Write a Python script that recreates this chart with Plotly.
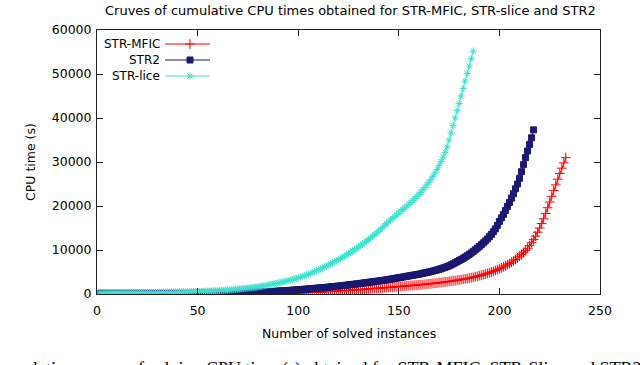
import plotly.graph_objects as go

# ---------------- data ----------------
series_names = ["STR-MFIC", "STR2", "STR-lice"]

str_mfic = [
    5, 5, 10, 10, 10, 15, 15, 15, 20, 20,
    20, 25, 25, 25, 30, 30, 30, 35, 35, 35,
    40, 40, 40, 45, 45, 45, 50, 50, 50, 55,
    55, 55, 60, 60, 60, 65, 65, 65, 70, 70,
    70, 75, 75, 75, 80, 80, 80, 85, 85, 85,
    90, 90, 90, 95, 95, 95, 100, 100, 100, 105,
    105, 105, 110, 110, 110, 115, 115, 115, 120, 120,
    120, 125, 125, 130, 130, 135, 135, 140, 140, 145,
    145, 150, 150, 155, 155, 160, 160, 165, 170, 175,
    180, 185, 190, 195, 200, 205, 210, 215, 220, 225,
    245, 265, 285, 305, 325, 345, 365, 385, 405, 425,
    450, 475, 500, 525, 550, 575, 600, 625, 650, 675,
    705, 735, 765, 795, 825, 855, 885, 915, 945, 975,
    1010, 1045, 1080, 1115, 1150, 1185, 1220, 1255, 1290, 1325,
    1360, 1395, 1430, 1465, 1500, 1535, 1570, 1605, 1640, 1675,
    1715, 1755, 1795, 1835, 1875, 1915, 1955, 1995, 2035, 2075,
    2120, 2165, 2210, 2255, 2300, 2345, 2395, 2445, 2495, 2550,
    2610, 2670, 2730, 2790, 2850, 2915, 2980, 3050, 3120, 3190,
    3270, 3350, 3430, 3510, 3600, 3700, 3800, 3910, 4020, 4140,
    4260, 4390, 4530, 4670, 4820, 4980, 5150, 5330, 5520, 5720,
    5930, 6160, 6400, 6660, 6930, 7220, 7530, 7860, 8210, 8580,
    8980, 9400, 9860, 10400, 11000, 11650, 12350, 13150, 14050, 15000,
    16000, 17100, 18300, 19600, 20900, 22200, 23500, 24800, 26100, 27400,
    28600, 29800, 31000,
]

str2 = [
    10, 15, 20, 25, 30, 30, 35, 35, 40, 40,
    45, 45, 50, 50, 55, 55, 60, 60, 65, 65,
    70, 70, 75, 75, 80, 80, 85, 85, 90, 90,
    95, 95, 100, 100, 105, 105, 110, 110, 115, 115,
    120, 120, 125, 125, 130, 130, 135, 135, 140, 140,
    145, 145, 150, 150, 155, 155, 160, 160, 165, 170,
    175, 180, 185, 190, 195, 200, 205, 210, 220, 230,
    245, 260, 275, 290, 305, 320, 340, 360, 380, 400,
    420, 440, 465, 490, 515, 540, 565, 590, 620, 650,
    680, 710, 740, 770, 800, 830, 860, 890, 920, 950,
    990, 1030, 1070, 1110, 1150, 1190, 1230, 1270, 1310, 1350,
    1390, 1430, 1470, 1510, 1550, 1600, 1650, 1700, 1750, 1800,
    1850, 1900, 1955, 2010, 2065, 2120, 2175, 2230, 2290, 2350,
    2410, 2470, 2530, 2590, 2650, 2710, 2770, 2830, 2890, 2950,
    3020, 3090, 3160, 3230, 3300, 3380, 3460, 3540, 3620, 3700,
    3780, 3860, 3940, 4020, 4100, 4180, 4260, 4340, 4420, 4500,
    4600, 4700, 4800, 4900, 5000, 5110, 5230, 5350, 5470, 5600,
    5750, 5900, 6050, 6220, 6400, 6620, 6850, 7100, 7350, 7600,
    7850, 8120, 8400, 8700, 9000, 9330, 9680, 10040, 10420, 10800,
    11200, 11620, 12050, 12500, 13000, 13550, 14150, 14800, 15600, 16500,
    17300, 18100, 19000, 19900, 20800, 21800, 22800, 23900, 25000, 26300,
    27800, 29400, 31000, 32500, 34000, 35500, 37300,
]

str_slice = [
    150, 160, 170, 180, 190, 200, 205, 210, 215, 220,
    225, 230, 235, 240, 245, 250, 255, 262, 270, 280,
    285, 290, 295, 300, 305, 310, 318, 325, 335, 345,
    350, 355, 360, 368, 375, 382, 390, 398, 405, 415,
    425, 435, 445, 455, 465, 478, 490, 505, 520, 540,
    560, 580, 600, 620, 640, 660, 680, 700, 720, 750,
    780, 810, 840, 870, 900, 935, 970, 1010, 1050, 1100,
    1150, 1200, 1250, 1300, 1350, 1400, 1450, 1500, 1560, 1620,
    1700, 1780, 1860, 1950, 2040, 2130, 2220, 2300, 2400, 2500,
    2600, 2700, 2810, 2920, 3040, 3160, 3280, 3400, 3520, 3640,
    3800, 3970, 4140, 4320, 4500, 4690, 4880, 5080, 5280, 5480,
    5700, 5920, 6140, 6370, 6600, 6830, 7070, 7310, 7560, 7810,
    8080, 8350, 8620, 8900, 9180, 9470, 9760, 10060, 10370, 10680,
    11000, 11330, 11670, 12010, 12360, 12720, 13090, 13470, 13860, 14250,
    14700, 15150, 15600, 16000, 16400, 16800, 17200, 17600, 18000, 18400,
    18800, 19200, 19600, 20000, 20400, 20800, 21250, 21700, 22150, 22600,
    23100, 23650, 24200, 24800, 25400, 26050, 26750, 27500, 28300, 29150,
    30100, 31100, 32200, 33400, 35000, 36600, 38300, 40000, 41700, 43300,
    45000, 46700, 48400, 50100, 51800, 53500, 55200,
]

x_ticks = [0, 50, 100, 150, 200, 250]
y_ticks = [0, 10000, 20000, 30000, 40000, 50000, 60000]
y_tick_labels = ["0", "10000", "20000", "30000", "40000", "50000", "60000"]

title_text = "Cruves of cumulative CPU times obtained for STR-MFIC, STR-slice and STR2"
x_title = "Number of solved instances"
y_title = "CPU time (s)"
caption_text = "umulative curves of solving CPU time (s) obtained for STR-MFIC, STR-Slice and STR2"

# ---------------- styles ----------------
colors = ["#ff0000", "#191970", "#40e0d0"]
symbols = ["cross-thin-open", "square", "asterisk-open"]
sizes = [7, 6, 6]
FONT = "DejaVu Sans"
FS = 12.5

W, H = 640, 365
L, R, T, B = 97, 600, 30, 294   # plot area in window pixels

fig = go.Figure()
all_series = [str_mfic, str2, str_slice]
for name, vals, c, s, sz in zip(series_names, all_series, colors, symbols, sizes):
    fig.add_trace(go.Scatter(
        x=list(range(1, len(vals) + 1)), y=vals, name=name,
        mode="lines+markers",
        line=dict(color=c, width=1),
        marker=dict(symbol=s, size=sz, color=c, line=dict(color=c, width=1)),
        showlegend=False,
    ))

# ---------------- custom legend (text left of key, like gnuplot) ----------------
# overlay axes measured in window pixels over the plot area
legend_rows = [44, 60, 76]
key_x0, key_mid, key_x1 = 165, 190, 210
for name, c, s, sz, ry in zip(series_names, colors, symbols, sizes, legend_rows):
    fig.add_trace(go.Scatter(
        x=[key_x0, key_x1], y=[ry, ry], xaxis="x2", yaxis="y2", mode="lines",
        line=dict(color=c, width=1), showlegend=False, hoverinfo="skip"))
    fig.add_trace(go.Scatter(
        x=[key_mid], y=[ry], xaxis="x2", yaxis="y2", mode="markers",
        marker=dict(symbol=s, size=sz, color=c, line=dict(color=c, width=1)),
        showlegend=False, hoverinfo="skip"))
    fig.add_annotation(x=key_x0 - 3, y=ry, xref="x2", yref="y2", text=name,
                       showarrow=False, xanchor="right", yanchor="middle",
                       font=dict(family=FONT, size=12, color="black"))


def px_x(p):
    return (p - L) / (R - L)


def px_y(p):
    return (B - p) / (B - T)


axis_common = dict(
    showgrid=False, zeroline=False, showline=True, linecolor="#222222",
    linewidth=1, mirror="ticks", ticks="inside", ticklen=6, tickcolor="#222222",
    tickfont=dict(family=FONT, size=FS, color="black"), automargin=False,
)

fig.update_layout(
    width=W, height=H,
    margin=dict(l=L, r=W - R, t=T, b=H - B),
    paper_bgcolor="white", plot_bgcolor="white",
    xaxis=dict(range=[0, 250], tickvals=x_ticks, ticklabelstandoff=5,
               **axis_common),
    yaxis=dict(range=[0, 60000], tickvals=y_ticks, ticktext=y_tick_labels,
               ticklabelstandoff=2, **axis_common),
    xaxis2=dict(overlaying="x", range=[L, R], visible=False, fixedrange=True),
    yaxis2=dict(overlaying="y", range=[B, T], visible=False, fixedrange=True),
    showlegend=False,
)

# title and axis titles placed as in the reference (window pixels)
fig.add_annotation(x=px_x(350), y=px_y(10), xref="paper", yref="paper",
                   text=title_text, showarrow=False, xanchor="center", yanchor="middle",
                   font=dict(family=FONT, size=13, color="black"))
fig.add_annotation(x=px_x(348.5), y=px_y(333), xref="paper", yref="paper",
                   text=x_title, showarrow=False, xanchor="center", yanchor="middle",
                   font=dict(family=FONT, size=FS, color="black"))
fig.add_annotation(x=px_x(30), y=px_y(162), xref="paper", yref="paper",
                   text=y_title, showarrow=False, xanchor="center", yanchor="middle",
                   textangle=-90, font=dict(family=FONT, size=FS, color="black"))

# cropped figure caption at the very bottom
fig.add_annotation(x=px_x(-1), y=px_y(357), xref="paper", yref="paper",
                   text=caption_text, showarrow=False, xanchor="left", yanchor="top",
                   font=dict(family="Liberation Serif", size=18, color="black"))

# remove the default 8px page margin so the figure fills the window
fig.write_html("out.html", config={"displayModeBar": False},
               post_script="document.body.style.margin='0px';document.body.style.overflow='hidden';")
